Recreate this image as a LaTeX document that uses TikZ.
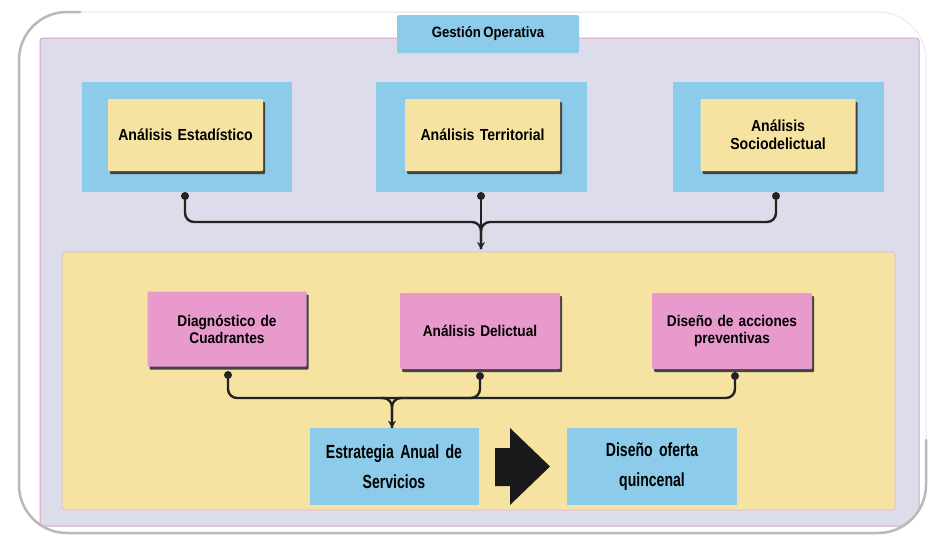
\documentclass[tikz,border=0pt]{standalone}
\usepackage{fontspec}
\setmainfont{Liberation Sans}
\newfontfamily\cond{Liberation Sans}[FakeStretch=0.88, WordSpace=0.65]
\newfontfamily\condb{Liberation Sans}[FakeStretch=0.74, WordSpace=0.65]
\usetikzlibrary{arrows.meta,shadows}
\definecolor{cblue}{HTML}{8CCBEA}
\definecolor{cyel}{HTML}{F6E3A2}
\definecolor{clav}{HTML}{DDDCEA}
\definecolor{cpink}{HTML}{E79ACB}
\definecolor{cpborder}{HTML}{D7A3C9}
\definecolor{cdark}{HTML}{222222}
\tikzset{
  bluebox/.style={fill=cblue, draw=none, minimum width=210pt, minimum height=110pt, inner sep=0pt},
  yelbox/.style={fill=cyel, draw=none, minimum width=155pt, minimum height=72pt, inner sep=2pt,
     rounded corners=1pt, text width=150pt, align=center, font=\cond\bfseries\fontsize{16}{18}\selectfont,
     drop shadow={shadow xshift=2pt, shadow yshift=-3pt, fill=cdark!85, opacity=1}},
  pinkbox/.style={fill=cpink, draw=none, minimum width=160pt, minimum height=76pt, inner sep=2pt,
     rounded corners=1pt, text width=155pt, align=center, font=\cond\bfseries\fontsize{15.5}{17}\selectfont,
     drop shadow={shadow xshift=2pt, shadow yshift=-3pt, fill=cdark!85, opacity=1}},
  lowbox/.style={fill=cblue, draw=none, minimum width=169pt, minimum height=77pt, inner sep=2pt,
     text width=165pt, align=center, font=\condb\bfseries\fontsize{19}{30}\selectfont},
  dotnode/.style={circle, fill=cdark, minimum size=8pt, inner sep=0pt},
  conn/.style={draw=cdark, line width=2.4pt, rounded corners=9pt},
  connarrow/.style={conn, -{Stealth[length=7pt,width=8pt]}},
}
\begin{document}
\begin{tikzpicture}[x=1pt,y=-1pt]
\useasboundingbox (0,0) rectangle (931,538);
% lavender panel
\node[fill=clav, draw=cpborder, line width=1pt, rounded corners=3pt, minimum width=879pt, minimum height=488pt, inner sep=0pt] (panel) at (479.5,282) {};
% white outer frame (mask outside rounded frame)
\fill[white, even odd rule] (-5,-5) rectangle (936,543) [rounded corners=48pt] (19,12) rectangle (926,533);
\draw[gray!12, line width=1.5pt, rounded corners=48pt] (19,12) rectangle (926,533);
\draw[gray!55, line width=2.5pt, rounded corners=48pt, line cap=round] (80,12) -- (19,12) -- (19,533) -- (926,533) -- (926,440);
% title
\node[fill=cblue, draw=none, rounded corners=2pt, minimum width=182pt, minimum height=38pt,
  font=\cond\bfseries\fontsize{15}{17}\selectfont] (gest) at (488,34) {Gestión Operativa};
% top blue frames
\node[bluebox] (b1) at (187,137) {};
\node[bluebox, minimum width=211pt] (b2) at (481.5,137) {};
\node[bluebox, minimum width=211pt] (b3) at (778.5,137) {};
\node[yelbox] (y1) at (185.5,135) {Análisis Estadístico};
\node[yelbox] (y2) at (482.5,135) {Análisis Territorial};
\node[yelbox] (y3) at (778,135) {Análisis\\Sociodelictual};
% dots top
\node[dotnode] (t1) at (185,196) {};
\node[dotnode] (t2) at (481,196) {};
\node[dotnode] (t3) at (776,196) {};
% big yellow panel
\node[fill=cyel, draw=cpborder!80, line width=0.8pt, rounded corners=3pt, minimum width=833pt, minimum height=258pt, inner sep=0pt] (yp) at (478.5,381) {};
\coordinate (ta) at (481,249);
\draw[conn] (t1.center) -- (185,222) -- (481,222) -- (ta);
\draw[conn] (t3.center) -- (776,222) -- (481,222) -- (ta);
\draw[connarrow, rounded corners=0pt] (t2.center) -- (ta);
% pink boxes
\node[pinkbox, minimum width=158pt, minimum height=75pt] (p1) at (227,329) {Diagnóstico de\\Cuadrantes};
\node[pinkbox] (p2) at (480,331) {Análisis Delictual};
\node[pinkbox] (p3) at (732,331) {Diseño de acciones\\preventivas};
% dots bottom
\node[dotnode] (d1) at (228,375) {};
\node[dotnode] (d2) at (480,376) {};
\node[dotnode] (d3) at (735,376) {};
% lower boxes
\node[lowbox] (e1) at (394,466.5) {Estrategia Anual de\\Servicios};
\node[lowbox, minimum width=170pt] (e2) at (652,466.5) {Diseño oferta\\quincenal};
\coordinate (ea) at (e1.north -| 392,0);
\draw[conn] (d1.center) -- (228,398) -- (392,398) -- (ea);
\draw[conn] (d3.center) -- (735,398) -- (392,398) -- (ea);
\draw[conn] (d2.center) -- (480,398) -- (380,398);
\draw[draw=cdark, line width=2.4pt, -{Stealth[length=7pt,width=8pt]}] (392,410) -- (ea);
% block arrow
\fill[black!90] (495,448) -- (510,448) -- (510,428) -- (550,466.5) -- (510,505) -- (510,486) -- (495,486) -- cycle;
\end{tikzpicture}
\end{document}
